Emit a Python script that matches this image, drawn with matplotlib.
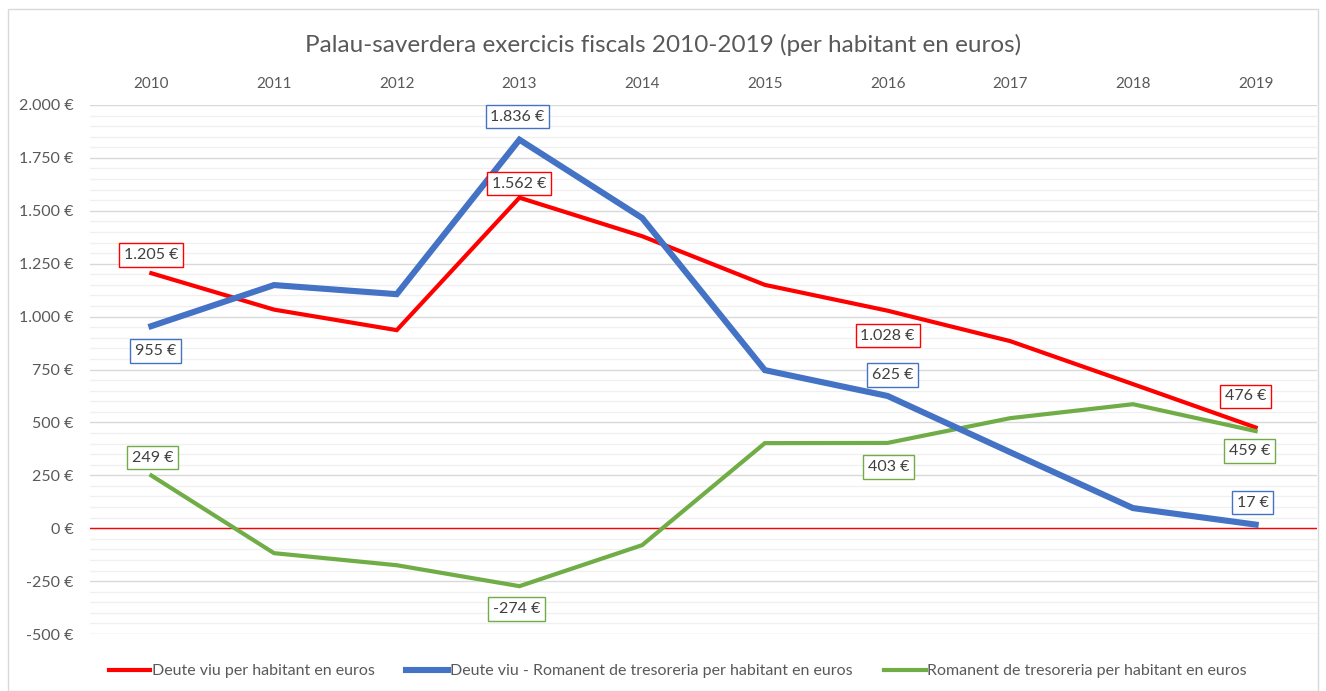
import numpy as np
import matplotlib.pyplot as plt
from matplotlib.patches import Rectangle
from matplotlib.ticker import MultipleLocator, FuncFormatter

# Données
years = [2010, 2011, 2012, 2013, 2014, 2015, 2016, 2017, 2018, 2019]
deute_viu = [1205, 1033, 936, 1562, 1380, 1150, 1028, 884, 681, 476]
deute_net = [955, 1149, 1106, 1836, 1466, 747, 625, 359, 95, 17]
romanent = [249, -118, -175, -274, -80, 402, 403, 520, 586, 459]

labels = ['Deute viu per habitant en euros',
          'Deute viu - Romanent de tresoreria per habitant en euros',
          'Romanent de tresoreria per habitant en euros']
colors = ['#FF0000', '#4472C4', '#70AD47']
widths = [3.0, 4.4, 3.0]

# annees avec une etiquette et decalage (pixels) de l'etiquette
annot = [
    {0: (0, 18), 3: (0, 14), 6: (0, -25), 9: (-10, 31)},
    {0: (4, -25), 3: (-2, 23), 6: (5, 21), 9: (-3, 22)},
    {0: (1, 18), 3: (-3, -23), 6: (1, -24), 9: (-6, -20)},
]

plt.rcParams['font.family'] = ['Lato', 'DejaVu Sans']
text_grey = '#595959'

fig = plt.figure(figsize=(13.26, 6.91), dpi=100)
ax = fig.add_axes([90 / 1326, 1 - 634 / 691, 1227 / 1326, 529 / 691])

x = np.arange(len(years))
series = [deute_viu, deute_net, romanent]
for i, vals in enumerate(series):
    ax.plot(x, vals, color=colors[i], lw=widths[i], label=labels[i],
            solid_joinstyle='miter', zorder=3 + (i == 1))
    for k, (dx, dy) in annot[i].items():
        ax.annotate(f'{vals[k]:,} €'.replace(',', '.'), (x[k], vals[k]),
                    xytext=(dx, dy), textcoords='offset pixels',
                    ha='center', va='center', fontsize=11.5, color='#404040',
                    bbox=dict(boxstyle='square,pad=0.3', fc='white',
                              ec=colors[i], lw=1.0), zorder=6)

ax.axhline(0, color='#FF0000', lw=1.0, zorder=2)

ax.set_xlim(-0.5, len(years) - 0.5)
ax.set_ylim(-500, 2000)
ax.yaxis.set_major_locator(MultipleLocator(250))
ax.yaxis.set_minor_locator(MultipleLocator(50))
ax.grid(axis='y', which='major', color='#D9D9D9', lw=1.0, zorder=0)
ax.grid(axis='y', which='minor', color='#F0F0F0', lw=1.0, zorder=0)
ax.yaxis.set_major_formatter(FuncFormatter(
    lambda v, p: f'{int(v):,} €'.replace(',', '.')))

ax.xaxis.tick_top()
ax.set_xticks(x)
ax.set_xticklabels([str(y) for y in years])
ax.tick_params(axis='x', length=0, pad=10, labelsize=11, colors=text_grey)
ax.tick_params(axis='y', which='both', length=0, pad=12, labelsize=11.5,
               colors=text_grey)
for s in ax.spines.values():
    s.set_visible(False)

fig.text(0.5, 1 - 45 / 691, 'Palau-saverdera exercicis fiscals 2010-2019 (per habitant en euros)',
         ha='center', va='center', fontsize=17.5, color=text_grey)

ax.legend(loc='center', bbox_to_anchor=(0.479, (634 - 671) / 529), ncol=3,
          frameon=False, fontsize=11.5, handlelength=2.6, handletextpad=0.1,
          columnspacing=2.0, labelcolor=text_grey)

fig.patches.append(Rectangle((8 / 1326, 0), 1 - 16 / 1326, 1 - 9 / 691,
                             transform=fig.transFigure, fill=False,
                             ec='#D9D9D9', lw=1.0))

fig.savefig('out.png', dpi=100)
